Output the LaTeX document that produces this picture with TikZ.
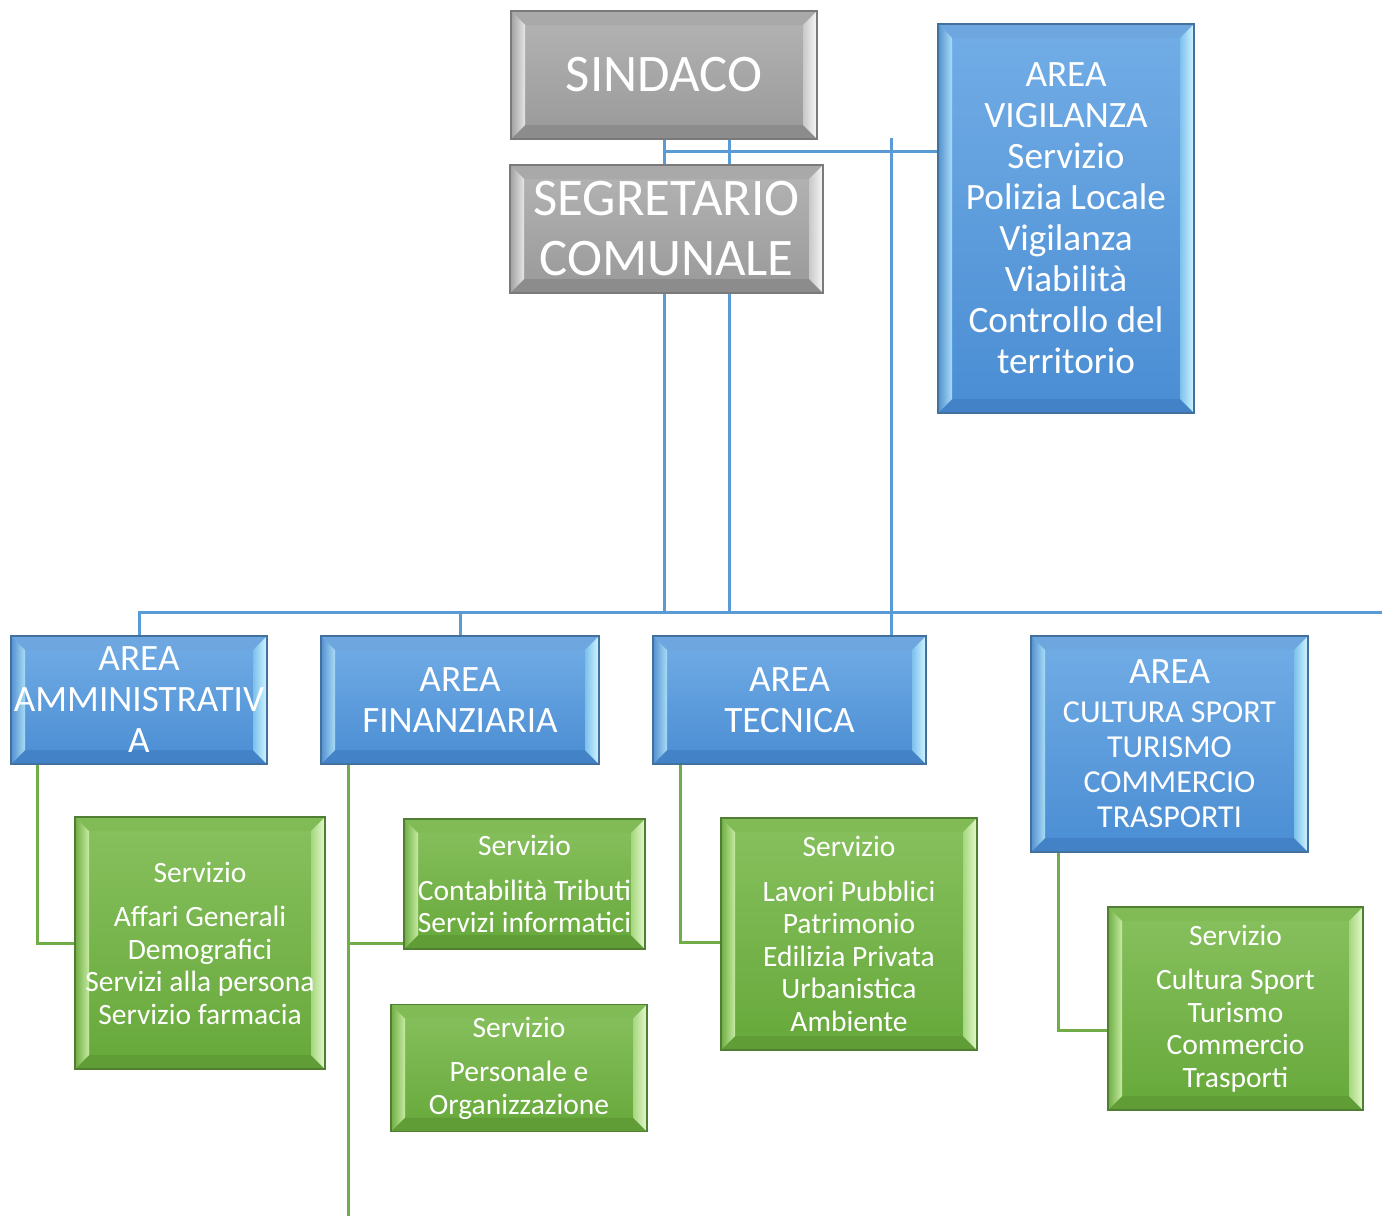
\documentclass[tikz,border=0pt]{standalone}
\usepackage{fontspec}
\setmainfont{Carlito}
\usetikzlibrary{calc}
\pgfdeclarelayer{background}
\pgfsetlayers{background,main}

\definecolor{blueline}{HTML}{5B9BD5}
\definecolor{greenline}{HTML}{70AD47}
% gray set
\definecolor{gborder}{HTML}{7A7A7A}
\definecolor{gtop}{HTML}{B4B4B4}
\definecolor{gbot}{HTML}{999999}
\definecolor{gtopbev}{HTML}{A9A9A9}
\definecolor{gbotbev}{HTML}{8C8C8C}
\definecolor{gleftout}{HTML}{A0A0A0}
\definecolor{gleftin}{HTML}{E6E6E6}
\definecolor{grightin}{HTML}{C8C8C8}
\definecolor{grightout}{HTML}{F7F7F7}
% blue set
\definecolor{bborder}{HTML}{41719C}
\definecolor{btop}{HTML}{72ADE6}
\definecolor{bbot}{HTML}{4A8DD3}
\definecolor{btopbev}{HTML}{6EA7E0}
\definecolor{bbotbev}{HTML}{4382C6}
\definecolor{bleftout}{HTML}{5390D0}
\definecolor{bleftin}{HTML}{A8DDF6}
\definecolor{brightin}{HTML}{7CC0EC}
\definecolor{brightout}{HTML}{D2F6FF}
% green set
\definecolor{grborder}{HTML}{507E32}
\definecolor{grtop}{HTML}{88C15F}
\definecolor{grbot}{HTML}{66A83A}
\definecolor{grtopbev}{HTML}{80BB56}
\definecolor{grbotbev}{HTML}{609D36}
\definecolor{grleftout}{HTML}{6EAD43}
\definecolor{grleftin}{HTML}{C6EBA2}
\definecolor{grrightin}{HTML}{A6D77E}
\definecolor{grrightout}{HTML}{E4F8CC}

\tikzset{
  bevelbox/.style n args={9}{rectangle, draw=#1, line width=1.4pt,
    top color=#2, bottom color=#3, text=white, align=flush center,
    inner sep=0pt, outer sep=0pt,
    path picture={
      \fill[#4] let \p1=(path picture bounding box.south west),
                    \p2=(path picture bounding box.north east) in
        (\x1,\y2) -- ({\x1+14pt},{\y2-14pt}) -- ({\x2-14pt},{\y2-14pt}) -- (\x2,\y2) -- cycle;
      \fill[#5] let \p1=(path picture bounding box.south west),
                    \p2=(path picture bounding box.north east) in
        (\x1,\y1) -- ({\x1+14pt},{\y1+14pt}) -- ({\x2-14pt},{\y1+14pt}) -- (\x2,\y1) -- cycle;
      \shade[left color=#6, right color=#7] let \p1=(path picture bounding box.south west),
                    \p2=(path picture bounding box.north east) in
        (\x1,\y1) -- ({\x1+14pt},{\y1+14pt}) -- ({\x1+14pt},{\y2-14pt}) -- (\x1,\y2) -- cycle;
      \shade[left color=#8, right color=#9] let \p1=(path picture bounding box.south west),
                    \p2=(path picture bounding box.north east) in
        (\x2,\y1) -- ({\x2-14pt},{\y1+14pt}) -- ({\x2-14pt},{\y2-14pt}) -- (\x2,\y2) -- cycle;
    }},
  graybox/.style={bevelbox={gborder}{gtop}{gbot}{gtopbev}{gbotbev}{gleftout}{gleftin}{grightin}{grightout},
    font=\fontsize{52.8}{60}\selectfont},
  bluebox/.style={bevelbox={bborder}{btop}{bbot}{btopbev}{bbotbev}{bleftout}{bleftin}{brightin}{brightout},
    font=\fontsize{37.2}{41}\selectfont},
  greenbox/.style={bevelbox={grborder}{grtop}{grbot}{grtopbev}{grbotbev}{grleftout}{grleftin}{grrightin}{grrightout},
    font=\fontsize{29.5}{32.5}\selectfont},
  bline/.style={draw=blueline, line width=3pt},
  gline/.style={draw=greenline, line width=3pt},
}

\begin{document}
\begin{tikzpicture}[x=1pt, y=-1pt]
\useasboundingbox (0,0) rectangle (1382,1216);

% top level
\node[graybox, text width=306pt, minimum height=128pt] (sind) at (664,75) {SINDACO};
\node[graybox, text width=313pt, minimum height=128pt] (seg) at (666.5,229) {SEGRETARIO\\COMUNALE};
\node[bluebox, text width=256pt, minimum height=389pt] (vig) at (1066,218.5)
  {AREA\\VIGILANZA\\Servizio\\Polizia Locale\\Vigilanza\\Viabilità\\Controllo del\\territorio};

% areas
\node[bluebox, text width=256pt, minimum height=128pt] (amm) at (139,700) {AREA\\AMMINISTRATIV\\A};
\node[bluebox, text width=278pt, minimum height=128pt] (fin) at (460,700) {AREA\\FINANZIARIA};
\node[bluebox, text width=273pt, minimum height=128pt] (tec) at (789.5,700) {AREA\\TECNICA};
\node[bluebox, text width=277pt, minimum height=216pt, font=\fontsize{37.2}{35}\selectfont] (cul) at (1169.5,744)
  {AREA\\[4pt]\fontsize{32}{35}\selectfont CULTURA SPORT\\TURISMO\\COMMERCIO\\TRASPORTI};

% services
\node[greenbox, text width=250pt, minimum height=252pt] (aff) at (200,943)
  {Servizio\\[12pt]Affari Generali\\Demografici\\Servizi alla persona\\Servizio farmacia};
\node[greenbox, text width=241pt, minimum height=130pt] (con) at (524.5,884)
  {Servizio\\[12pt]Contabilità Tributi\\Servizi informatici};
\node[greenbox, text width=256pt, minimum height=127pt] (per) at (519,1068)
  {Servizio\\[12pt]Personale e\\Organizzazione};
\node[greenbox, text width=256pt, minimum height=232pt] (lav) at (849,934)
  {Servizio\\[12pt]Lavori Pubblici\\Patrimonio\\Edilizia Privata\\Urbanistica\\Ambiente};
\node[greenbox, text width=255pt, minimum height=203pt] (gcu) at (1235.5,1008.5)
  {Servizio\\[12pt]Cultura Sport\\Turismo\\Commercio\\Trasporti};

% connector helper coordinates
\coordinate (busL) at (138,612);
\coordinate (busR) at (1382,612);
\coordinate (s2) at (729,139);
\coordinate (vj) at (938,151);
\coordinate (t0) at (891,138);
\coordinate (a1) at (37,764);
\coordinate (f1) at (348,764);
\coordinate (fend) at (348,1216);
\coordinate (cj) at (404,943);
\coordinate (l1) at (680,764);
\coordinate (lj) at (721,942);
\coordinate (c1) at (1058,852);
\coordinate (gj) at (1108,1030);

\begin{pgfonlayer}{background}
  \draw[bline] (sind.south) -- (sind.south |- busL);
  \draw[bline] (s2) -- (s2 |- busL);
  \draw[bline] (sind.south |- vj) -- (vj);
  \draw[bline] (t0) -- (t0 |- tec.north);
  \draw[bline] (busL) -- (busR);
  \draw[bline] (amm.north) -- (amm.north |- busL);
  \draw[bline] (fin.north) -- (fin.north |- busL);

  \draw[gline] (a1) |- (aff.west);
  \draw[gline] (f1) -- (fend);
  \draw[gline] (f1 |- cj) -- (cj);
  \draw[gline] (l1) |- (lj);
  \draw[gline] (c1) |- (gj);
\end{pgfonlayer}
\end{tikzpicture}
\end{document}
